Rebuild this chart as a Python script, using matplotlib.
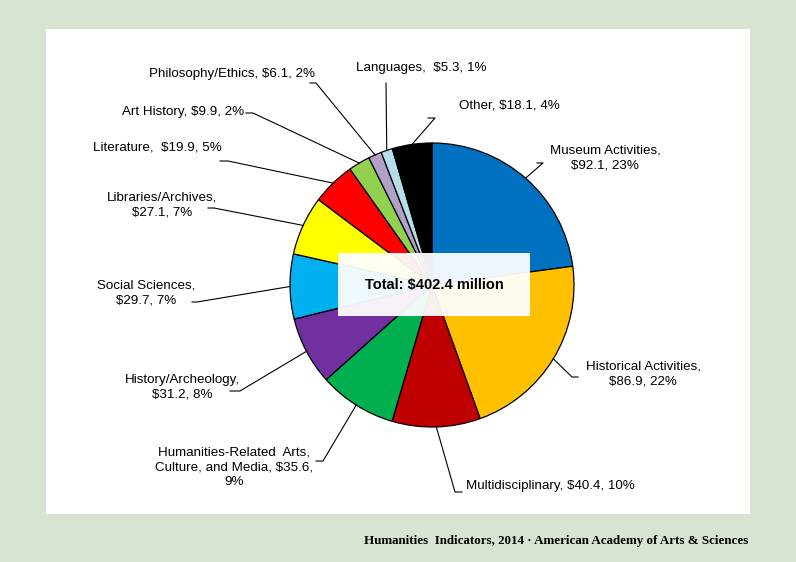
import numpy as np
import matplotlib
matplotlib.use("Agg")
import matplotlib.pyplot as plt
from matplotlib.patches import Rectangle

# funding by field, $ millions (clockwise from 12 o'clock)
fields = ["Museum Activities", "Historical Activities", "Multidisciplinary",
          "Humanities-Related Arts, Culture, and Media", "History/Archeology",
          "Social Sciences", "Libraries/Archives", "Literature", "Art History",
          "Philosophy/Ethics", "Languages", "Other"]
amounts = [92.1, 86.9, 40.4, 35.6, 31.2, 29.7, 27.1, 19.9, 9.9, 6.1, 5.3, 18.1]
labels = ["Museum Activities,\n$92.1, 23%", "Historical Activities,\n$86.9, 22%",
          "Multidisciplinary, $40.4, 10%",
          "Humanities-Related  Arts,\nCulture, and Media, $35.6,\n9%",
          "History/Archeology,\n$31.2, 8%", "Social Sciences,\n$29.7, 7%",
          "Libraries/Archives,\n$27.1, 7%", "Literature,  $19.9, 5%",
          "Art History, $9.9, 2%", "Philosophy/Ethics, $6.1, 2%",
          "Languages,  $5.3, 1%", "Other, $18.1, 4%"]
colors = ["#0070C0", "#FFC000", "#C00000", "#00B050", "#7030A0", "#00B0F0",
          "#FFFF00", "#FF0000", "#92D050", "#B1A0C7", "#B7DEE8", "#000000"]
total_text = "Total: $402.4 million"

W, H = 796, 562
CX, CY, R = 432, 285, 142  # pie centre / radius in pixels


def px(x, y):
    # pixel position -> data coords (pie radius = 1)
    return (x - CX) / R, (CY - y) / R


# label placement in pixels: (text x, text y, elbow x, elbow y, tick end x)
layout = [
    (605, 158, 543, 163, 537),
    (643, 374, 572, 377, 578),
    (550, 486, 455, 492, 462),
    (234, 467, 323, 461, 316),
    (182, 387, 240, 391, 230),
    (146, 293, 197, 302, 192),
    (162, 205, 214, 208, 208),
    (157, 148, 228, 161, 220),
    (183, 112, 253, 113, 246),
    (232, 74, 316, 83, 310),
    (421, 68, 386, 83, 386),
    (509, 105, 435, 118, 428),
]

fig = plt.figure(figsize=(W / 100, H / 100), dpi=100, facecolor="#d6e4d1")
ax = fig.add_axes([0, 0, 1, 1])

x0, y0 = px(46, 514)
x1, y1 = px(750, 29)
ax.add_patch(Rectangle((x0, y0), x1 - x0, y1 - y0, facecolor="white",
                       edgecolor="none", zorder=0))

wedges, _ = ax.pie(amounts, colors=colors, startangle=90, counterclock=False,
                   radius=1, center=(0, 0), frame=True,
                   wedgeprops=dict(edgecolor="black", linewidth=0.9))
ax.set_xlim(-CX / R, (W - CX) / R)
ax.set_ylim(-(H - CY) / R, CY / R)
ax.axis("off")

for w, lab, (tx, ty, ex, ey, kx) in zip(wedges, labels, layout):
    ang = np.deg2rad((w.theta1 + w.theta2) / 2)
    wx, wy = np.cos(ang), np.sin(ang)
    exd, eyd = px(ex, ey)
    kxd, _ = px(kx, ey)
    ax.plot([wx, exd, kxd], [wy, eyd, eyd], color="black", lw=0.8, zorder=3)
    ax.text(*px(tx, ty), lab, ha="center", va="center", fontsize=9.6,
            family="Liberation Sans", linespacing=1.3, zorder=4)

bx0, by0 = px(338, 316)
bx1, by1 = px(530, 253)
ax.add_patch(Rectangle((bx0, by0), bx1 - bx0, by1 - by0, facecolor="white",
                       edgecolor="none", alpha=0.94, zorder=5))
ax.text(*px(434, 285), total_text, ha="center", va="center", fontsize=10.5,
        fontweight="bold", family="Liberation Sans", zorder=6)

fig.text(748 / W, 1 - 541 / H,
         "Humanities  Indicators, 2014 \u00b7 American Academy of Arts & Sciences",
         ha="right", va="center", fontsize=9.4, fontweight="bold",
         family="Liberation Serif")

fig.savefig("out.png", dpi=100, facecolor=fig.get_facecolor())
